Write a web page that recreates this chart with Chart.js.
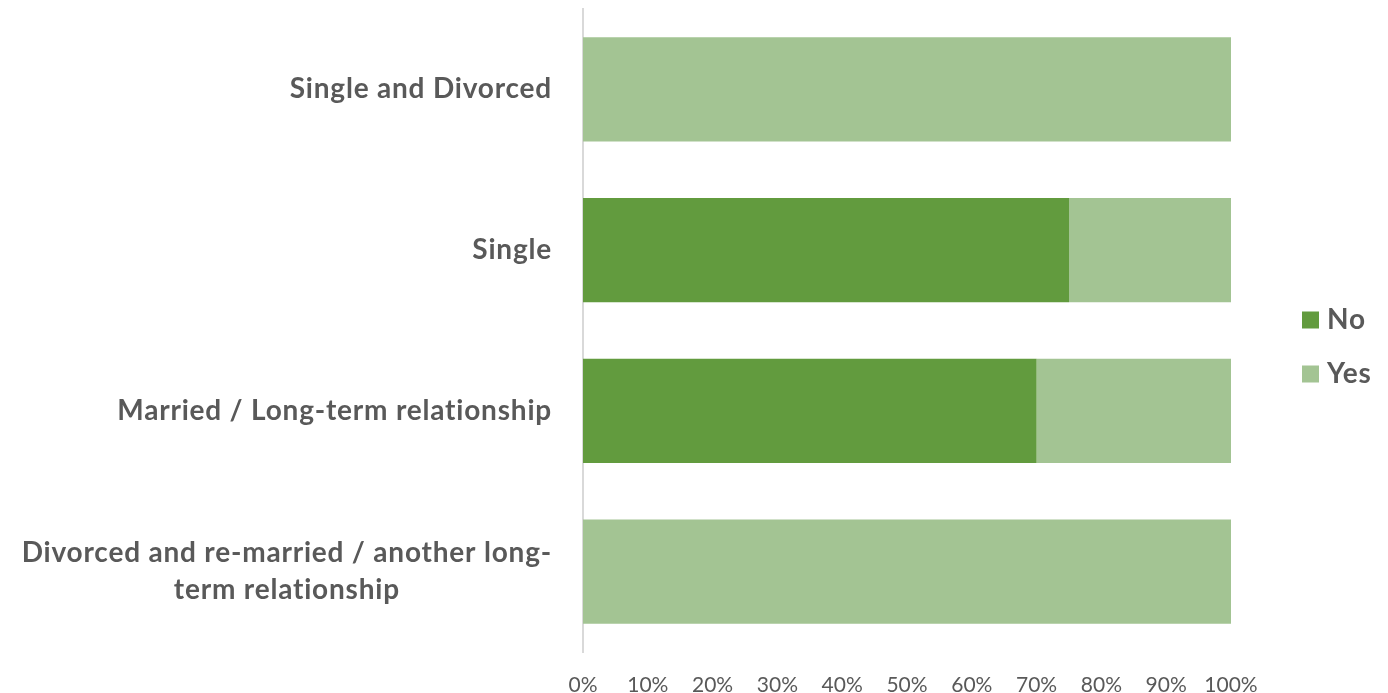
<!DOCTYPE html>
<html>
<head>
<meta charset="utf-8">
<script src="https://cdn.jsdelivr.net/npm/chart.js@4/dist/chart.umd.min.js"></script>
<style>
  body { margin: 0; background: #fff; }
  #wrap { width: 1388px; height: 693px; }
</style>
</head>
<body>
<div id="wrap"><canvas id="graph" width="1388" height="693"></canvas></div>
<script>
// relationship status, share answering No / Yes (percent)
const categories = [
  "Single and Divorced",
  "Single",
  "Married / Long-term relationship",
  ["Divorced and re-married / another long-", "term relationship"]
];
const noValues = [0, 75, 70, 0];
const yesValues = [100, 25, 30, 100];
const xTickStep = 10;

const textColor = "#595959";
const fontFamily = "Lato, 'Open Sans', sans-serif";
const labelFont = "bold 28px " + fontFamily;

// category labels: right aligned block, wrapped lines centred on each other
const categoryLabels = {
  id: "categoryLabels",
  afterDraw(chart) {
    const ctx = chart.ctx;
    const y = chart.scales.y;
    const right = chart.chartArea.left - 31;
    const lineHeight = 37;
    ctx.save();
    ctx.font = labelFont;
    ctx.letterSpacing = "0.8px";
    ctx.fillStyle = textColor;
    ctx.textBaseline = "middle";
    ctx.textAlign = "center";
    categories.forEach((cat, i) => {
      const lines = Array.isArray(cat) ? cat : [cat];
      const widest = Math.max(...lines.map(l => ctx.measureText(l).width));
      const cx = right - widest / 2;
      const cy = y.getPixelForTick(i);
      lines.forEach((line, j) => {
        ctx.fillText(line, cx, cy + (j - (lines.length - 1) / 2) * lineHeight);
      });
    });
    ctx.restore();
  }
};

// legend on the right, centred on the canvas height
const sideLegend = {
  id: "sideLegend",
  afterDraw(chart) {
    const ctx = chart.ctx;
    const x = chart.chartArea.right + 71;
    const mid = chart.height / 2;
    ctx.save();
    ctx.font = labelFont;
    ctx.letterSpacing = "0.8px";
    ctx.textBaseline = "middle";
    ctx.textAlign = "left";
    chart.data.datasets.forEach((ds, i) => {
      const cy = mid + (i === 0 ? -27 : 27);
      ctx.fillStyle = ds.backgroundColor;
      ctx.fillRect(x, cy - 8, 17, 17);
      ctx.fillStyle = textColor;
      ctx.fillText(ds.label, x + 25, cy);
    });
    ctx.restore();
  }
};

new Chart(document.getElementById("graph").getContext("2d"), {
  type: "bar",
  data: {
    labels: categories,
    datasets: [
      { label: "No", data: noValues, backgroundColor: "#629b3e", borderWidth: 0 },
      { label: "Yes", data: yesValues, backgroundColor: "#a3c493", borderWidth: 0 }
    ]
  },
  options: {
    indexAxis: "y",
    responsive: false,
    animation: false,
    categoryPercentage: 0.647,
    barPercentage: 1,
    layout: { padding: { top: 9, right: 157, bottom: 0, left: 0 } },
    plugins: {
      legend: { display: false },
      tooltip: { enabled: false }
    },
    scales: {
      x: {
        stacked: true,
        min: 0,
        max: 100,
        grid: { display: false, drawTicks: false },
        border: { display: false },
        ticks: {
          stepSize: xTickStep,
          padding: 21,
          color: textColor,
          font: { family: fontFamily, size: 21 },
          callback: v => v + "%"
        },
        afterFit: scale => { scale.height = 41; }
      },
      y: {
        stacked: true,
        grid: { display: false, drawTicks: false },
        border: { display: true, color: "#d9d9d9", width: 2 },
        ticks: { display: false },
        afterFit: scale => { scale.width = 583; }
      }
    }
  },
  plugins: [categoryLabels, sideLegend]
});
</script>
</body>
</html>
